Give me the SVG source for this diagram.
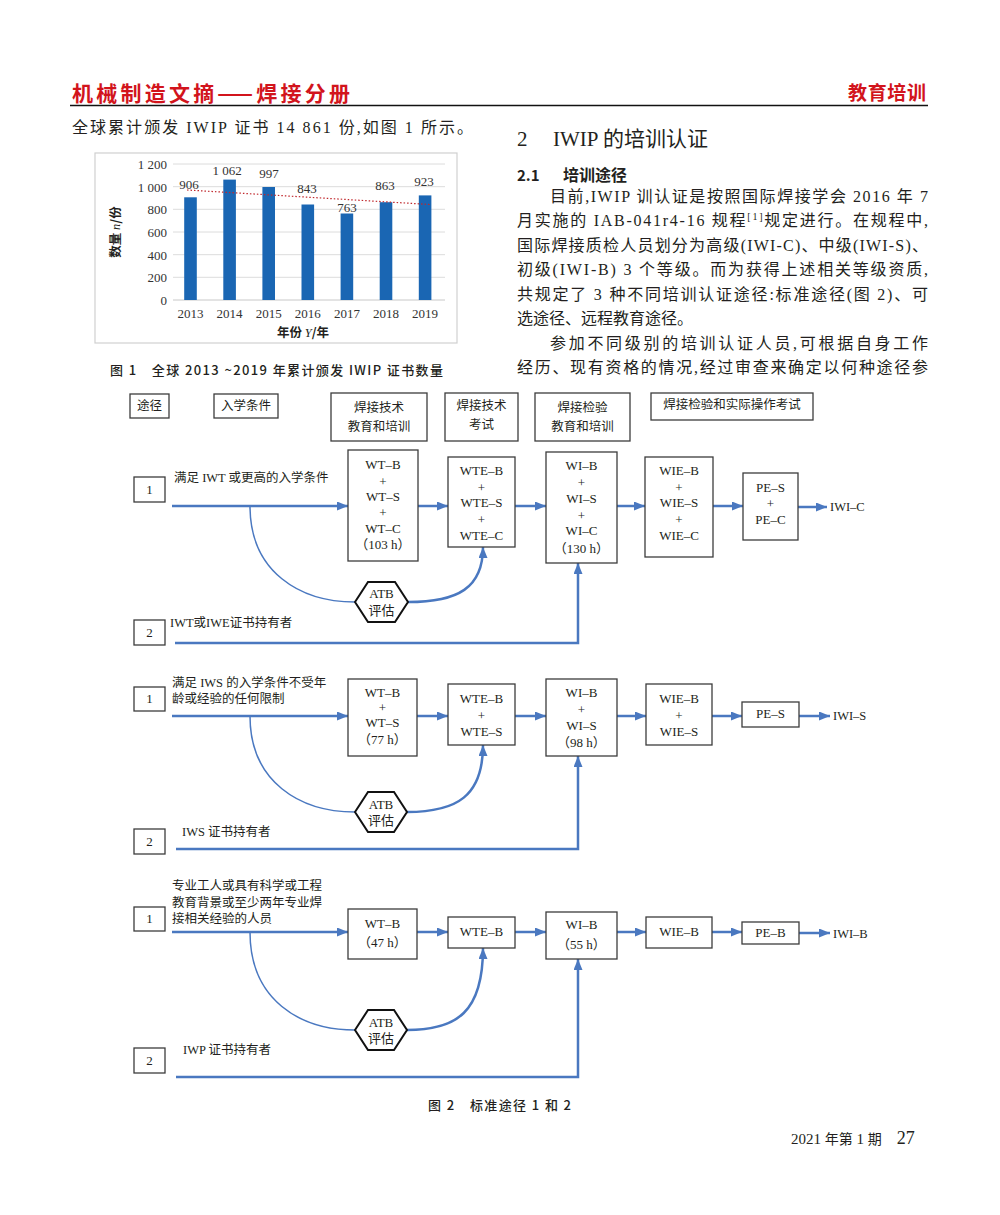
<svg xmlns="http://www.w3.org/2000/svg" width="1000" height="1215" viewBox="0 0 1000 1215">
<defs>
<marker id="ah" markerWidth="11" markerHeight="9" refX="11" refY="4.5" orient="auto" markerUnits="userSpaceOnUse"><path d="M0,0 L11,4.5 L0,9 Z" fill="#4a78c0"/></marker>
</defs>
<style>
.serif{font-family:"Liberation Serif","Noto Sans CJK SC",serif;fill:#231f20}
.sans{font-family:"Noto Sans CJK SC","Liberation Sans",sans-serif;fill:#231f20}
.red{font-family:"Noto Sans CJK SC",sans-serif;fill:#d2141c;font-weight:700}
.body{font-family:"Liberation Serif","Noto Sans CJK SC",serif;font-size:16px;fill:#231f20}
.box{fill:#fff;stroke:#3c3c3c;stroke-width:1.3}
.bt{font-family:"Liberation Serif","Noto Sans CJK SC",serif;font-size:13px;fill:#231f20;text-anchor:middle}
.ht{font-family:"Liberation Serif","Noto Sans CJK SC",serif;font-size:12.5px;fill:#231f20;text-anchor:middle}
.lbl{font-family:"Liberation Serif","Noto Sans CJK SC",serif;font-size:12.5px;fill:#231f20}
.flow{fill:none;stroke:#4a78c0;stroke-width:2.5}
.thin{fill:none;stroke:#4a78c0;stroke-width:1.5}
.hex{fill:#fff;stroke:#111;stroke-width:2}
.grid{stroke:#dcdcdc;stroke-width:1}
.bar{fill:#1a66b3}
.ct{font-family:"Liberation Serif",serif;font-size:13px;fill:#333}
</style>

<!-- page header -->
<g id="page-header">
<text class="red" x="72" y="101" font-size="21" textLength="278" lengthAdjust="spacing">机械制造文摘——焊接分册</text>
<text class="red" x="848" y="100" font-size="19" textLength="78" lengthAdjust="spacing">教育培训</text>
<line x1="70" y1="105.5" x2="928" y2="105.5" stroke="#111" stroke-width="1.6"/>
</g>

<!-- left text line -->
<text class="body" x="72" y="133" textLength="401" lengthAdjust="spacing">全球累计颁发 IWIP 证书 14 861 份,如图 1 所示。</text>

<!-- Figure 1 chart -->
<g id="chart1">
<rect x="95" y="153" width="362" height="190" fill="#fff" stroke="#d0d0d0" stroke-width="1.2"/>
<g class="grid">
<line x1="173" y1="164" x2="445" y2="164"/>
<line x1="173" y1="186.7" x2="445" y2="186.7"/>
<line x1="173" y1="209.3" x2="445" y2="209.3"/>
<line x1="173" y1="232" x2="445" y2="232"/>
<line x1="173" y1="254.7" x2="445" y2="254.7"/>
<line x1="173" y1="277.3" x2="445" y2="277.3"/>
<line x1="173" y1="300" x2="445" y2="300" stroke="#c8c8c8"/>
</g>
<g class="ct" text-anchor="end">
<text x="167" y="169">1 200</text>
<text x="167" y="191.7">1 000</text>
<text x="167" y="214.3">800</text>
<text x="167" y="237">600</text>
<text x="167" y="259.7">400</text>
<text x="167" y="282.3">200</text>
<text x="167" y="305">0</text>
</g>
<g>
<rect class="bar" x="184.2" y="197.3" width="12.6" height="102.7"/>
<rect class="bar" x="223.3" y="179.6" width="12.6" height="120.4"/>
<rect class="bar" x="262.4" y="187" width="12.6" height="113"/>
<rect class="bar" x="301.5" y="204.5" width="12.6" height="95.5"/>
<rect class="bar" x="340.6" y="213.5" width="12.6" height="86.5"/>
<rect class="bar" x="379.7" y="202.2" width="12.6" height="97.8"/>
<rect class="bar" x="418.8" y="195.4" width="12.6" height="104.6"/>
</g>
<line x1="187" y1="190" x2="430" y2="204.5" stroke="#c0282d" stroke-width="1.2" stroke-dasharray="1.5,2"/>
<g class="ct" text-anchor="middle" font-size="13.5">
<text x="189" y="189">906</text>
<text x="227" y="175">1 062</text>
<text x="269" y="178">997</text>
<text x="307" y="193">843</text>
<text x="347" y="212">763</text>
<text x="385" y="190">863</text>
<text x="424" y="186">923</text>
</g>
<g class="ct" text-anchor="middle">
<text x="190.5" y="318">2013</text>
<text x="229.6" y="318">2014</text>
<text x="268.7" y="318">2015</text>
<text x="307.8" y="318">2016</text>
<text x="346.9" y="318">2017</text>
<text x="386" y="318">2018</text>
<text x="425.1" y="318">2019</text>
</g>
<text class="sans" x="303" y="337" font-size="12.5" font-weight="700" text-anchor="middle">年份 <tspan font-family="Liberation Serif" font-style="italic" font-weight="400">Y</tspan>/年</text>
<text class="sans" transform="translate(120,232) rotate(-90)" font-size="12.5" font-weight="700" text-anchor="middle">数量 <tspan font-family="Liberation Serif" font-style="italic" font-weight="400">n</tspan>/份</text>
</g>
<text class="sans" x="110" y="375" font-size="13" font-weight="500" textLength="333" lengthAdjust="spacing">图 1　全球 2013 ~2019 年累计颁发 IWIP 证书数量</text>

<!-- right column text -->
<g id="right-text">
<text class="serif" x="517" y="146" font-size="21">2</text>
<text class="serif" x="553" y="146" font-size="21">IWIP 的培训认证</text>
<text class="sans" x="517" y="181" font-size="15" font-weight="700">2.1</text>
<text class="sans" x="563" y="181" font-size="16" font-weight="700">培训途径</text>
<text class="body" x="550" y="202" textLength="378" lengthAdjust="spacing">目前,IWIP 训认证是按照国际焊接学会 2016 年 7</text>
<text class="body" x="517" y="226" textLength="411" lengthAdjust="spacing">月实施的 IAB-041r4-16 规程<tspan font-size="10" dy="-6">[1]</tspan><tspan dy="6">规定进行。在规程中,</tspan></text>
<text class="body" x="517" y="251" textLength="411" lengthAdjust="spacing">国际焊接质检人员划分为高级(IWI-C)、中级(IWI-S)、</text>
<text class="body" x="517" y="275" textLength="411" lengthAdjust="spacing">初级(IWI-B) 3 个等级。而为获得上述相关等级资质,</text>
<text class="body" x="517" y="300" textLength="411" lengthAdjust="spacing">共规定了 3 种不同培训认证途径:标准途径(图 2)、可</text>
<text class="body" x="517" y="324">选途径、远程教育途径。</text>
<text class="body" x="550" y="349" textLength="378" lengthAdjust="spacing">参加不同级别的培训认证人员,可根据自身工作</text>
<text class="body" x="517" y="373" textLength="411" lengthAdjust="spacing">经历、现有资格的情况,经过审查来确定以何种途径参</text>
</g>

<!-- Figure 2 header row -->
<g id="h-route"><rect class="box" x="130" y="394" width="39" height="24"/><text class="ht" x="149.5" y="410">途径</text></g>
<g id="h-entry"><rect class="box" x="214" y="394" width="64" height="24"/><text class="ht" x="246" y="410">入学条件</text></g>
<g id="h-wt"><rect class="box" x="331" y="393" width="96" height="48"/><text class="ht" x="379" y="412">焊接技术</text><text class="ht" x="379" y="431">教育和培训</text></g>
<g id="h-wte"><rect class="box" x="445" y="393" width="73" height="48"/><text class="ht" x="481.5" y="410">焊接技术</text><text class="ht" x="481.5" y="429">考试</text></g>
<g id="h-wi"><rect class="box" x="535" y="393" width="95" height="48"/><text class="ht" x="582.5" y="412">焊接检验</text><text class="ht" x="582.5" y="431">教育和培训</text></g>
<g id="h-pe"><rect class="box" x="651" y="393" width="162" height="27"/><text class="ht" x="732" y="409">焊接检验和实际操作考试</text></g>

<!-- connectors -->
<g id="connectors">
<!-- row 1 -->
<path class="flow" d="M172,506 H348" marker-end="url(#ah)"/>
<path class="flow" d="M418,506 H448" marker-end="url(#ah)"/>
<path class="flow" d="M515,506 H546" marker-end="url(#ah)"/>
<path class="flow" d="M617,506 H645" marker-end="url(#ah)"/>
<path class="flow" d="M713,506 H743" marker-end="url(#ah)"/>
<path class="flow" d="M798,507 H827" marker-end="url(#ah)"/>
<path class="thin" d="M250,506 C250,572 300,602 355,602"/>
<path class="flow" d="M408,602 C458,602 483,588 483,547" marker-end="url(#ah)"/>
<path class="flow" stroke-width="2" d="M175,643 H578 V563" marker-end="url(#ah)"/>
<!-- row 2 -->
<path class="flow" d="M172,716 H348" marker-end="url(#ah)"/>
<path class="flow" d="M417,716 H448" marker-end="url(#ah)"/>
<path class="flow" d="M515,716 H546" marker-end="url(#ah)"/>
<path class="flow" d="M617,716 H646" marker-end="url(#ah)"/>
<path class="flow" d="M712,716 H742" marker-end="url(#ah)"/>
<path class="flow" d="M799,716 H830" marker-end="url(#ah)"/>
<path class="thin" d="M250,716 C250,782 300,812 355,812"/>
<path class="flow" d="M407,812 C457,812 483,796 483,745" marker-end="url(#ah)"/>
<path class="flow" stroke-width="2" d="M176,849 H578 V756" marker-end="url(#ah)"/>
<!-- row 3 -->
<path class="flow" d="M172,932 H348" marker-end="url(#ah)"/>
<path class="flow" d="M417,932 H448" marker-end="url(#ah)"/>
<path class="flow" d="M515,932 H546" marker-end="url(#ah)"/>
<path class="flow" d="M617,932 H646" marker-end="url(#ah)"/>
<path class="flow" d="M712,932 H742" marker-end="url(#ah)"/>
<path class="flow" d="M799,933 H830" marker-end="url(#ah)"/>
<path class="thin" d="M250,932 C250,1000 300,1030 355,1030"/>
<path class="flow" d="M407,1030 C457,1030 483,1012 483,948" marker-end="url(#ah)"/>
<path class="flow" stroke-width="2" d="M176,1077 H578 V959" marker-end="url(#ah)"/>
</g>

<!-- row 1 nodes -->
<g id="r1-p1"><rect class="box" x="134" y="477" width="31" height="25"/><text class="bt" x="149.5" y="494">1</text></g>
<text class="lbl" x="174" y="482">满足 IWT 或更高的入学条件</text>
<g id="r1-wt"><rect class="box" x="348" y="450" width="70" height="111"/>
<text class="bt" x="383" y="469">WT–B</text><text class="bt" x="383" y="486">+</text><text class="bt" x="383" y="501">WT–S</text><text class="bt" x="383" y="517">+</text><text class="bt" x="383" y="533">WT–C</text><text class="bt" x="383" y="549">（103 h）</text></g>
<g id="r1-wte"><rect class="box" x="448" y="457" width="67" height="90"/>
<text class="bt" x="481.5" y="475">WTE–B</text><text class="bt" x="481.5" y="492">+</text><text class="bt" x="481.5" y="507">WTE–S</text><text class="bt" x="481.5" y="524">+</text><text class="bt" x="481.5" y="540">WTE–C</text></g>
<g id="r1-wi"><rect class="box" x="546" y="452" width="71" height="111"/>
<text class="bt" x="581.5" y="470">WI–B</text><text class="bt" x="581.5" y="487">+</text><text class="bt" x="581.5" y="503">WI–S</text><text class="bt" x="581.5" y="520">+</text><text class="bt" x="581.5" y="535">WI–C</text><text class="bt" x="581.5" y="553">（130 h）</text></g>
<g id="r1-wie"><rect class="box" x="645" y="457" width="68" height="100"/>
<text class="bt" x="679" y="475">WIE–B</text><text class="bt" x="679" y="492">+</text><text class="bt" x="679" y="507">WIE–S</text><text class="bt" x="679" y="524">+</text><text class="bt" x="679" y="540">WIE–C</text></g>
<g id="r1-pe"><rect class="box" x="743" y="473" width="55" height="67"/>
<text class="bt" x="770.5" y="492">PE–S</text><text class="bt" x="770.5" y="508">+</text><text class="bt" x="770.5" y="524">PE–C</text></g>
<text id="r1-out" class="lbl" x="830" y="511">IWI–C</text>
<g id="r1-atb"><polygon class="hex" points="355,602 368,582 395,582 408,602 395,622 368,622"/>
<text class="bt" x="381.5" y="598">ATB</text><text class="bt" x="381.5" y="615">评估</text></g>
<g id="r1-p2"><rect class="box" x="134" y="620" width="31" height="25"/><text class="bt" x="149.5" y="637">2</text></g>
<text class="lbl" x="170" y="627">IWT或IWE证书持有者</text>

<!-- row 2 nodes -->
<g id="r2-p1"><rect class="box" x="134" y="687" width="31" height="24"/><text class="bt" x="149.5" y="703">1</text></g>
<text class="lbl" x="172" y="687">满足 IWS 的入学条件不受年</text>
<text class="lbl" x="172" y="703">龄或经验的任何限制</text>
<g id="r2-wt"><rect class="box" x="348" y="679" width="69" height="77"/>
<text class="bt" x="382.5" y="697">WT–B</text><text class="bt" x="382.5" y="712">+</text><text class="bt" x="382.5" y="727">WT–S</text><text class="bt" x="382.5" y="744">（77 h）</text></g>
<g id="r2-wte"><rect class="box" x="448" y="684" width="67" height="61"/>
<text class="bt" x="481.5" y="703">WTE–B</text><text class="bt" x="481.5" y="720">+</text><text class="bt" x="481.5" y="736">WTE–S</text></g>
<g id="r2-wi"><rect class="box" x="546" y="679" width="71" height="77"/>
<text class="bt" x="581.5" y="697">WI–B</text><text class="bt" x="581.5" y="714">+</text><text class="bt" x="581.5" y="730">WI–S</text><text class="bt" x="581.5" y="747">（98 h）</text></g>
<g id="r2-wie"><rect class="box" x="646" y="684" width="66" height="61"/>
<text class="bt" x="679" y="703">WIE–B</text><text class="bt" x="679" y="720">+</text><text class="bt" x="679" y="736">WIE–S</text></g>
<g id="r2-pe"><rect class="box" x="742" y="702" width="57" height="25"/><text class="bt" x="770.5" y="718">PE–S</text></g>
<text id="r2-out" class="lbl" x="833" y="720">IWI–S</text>
<g id="r2-atb"><polygon class="hex" points="355,812 368,792 394,792 407,812 394,832 368,832"/>
<text class="bt" x="381" y="809">ATB</text><text class="bt" x="381" y="825">评估</text></g>
<g id="r2-p2"><rect class="box" x="134" y="829" width="31" height="25"/><text class="bt" x="149.5" y="846">2</text></g>
<text class="lbl" x="182" y="836">IWS 证书持有者</text>

<!-- row 3 nodes -->
<g id="r3-p1"><rect class="box" x="134" y="907" width="31" height="24"/><text class="bt" x="149.5" y="923">1</text></g>
<text class="lbl" x="172" y="890">专业工人或具有科学或工程</text>
<text class="lbl" x="172" y="907">教育背景或至少两年专业焊</text>
<text class="lbl" x="172" y="923">接相关经验的人员</text>
<g id="r3-wt"><rect class="box" x="348" y="909" width="69" height="50"/>
<text class="bt" x="382.5" y="928">WT–B</text><text class="bt" x="382.5" y="947">（47 h）</text></g>
<g id="r3-wte"><rect class="box" x="448" y="917" width="67" height="31"/><text class="bt" x="481.5" y="936">WTE–B</text></g>
<g id="r3-wi"><rect class="box" x="546" y="912" width="71" height="47"/>
<text class="bt" x="581.5" y="929">WI–B</text><text class="bt" x="581.5" y="949">（55 h）</text></g>
<g id="r3-wie"><rect class="box" x="646" y="917" width="66" height="31"/><text class="bt" x="679" y="936">WIE–B</text></g>
<g id="r3-pe"><rect class="box" x="742" y="922" width="57" height="22"/><text class="bt" x="770.5" y="937">PE–B</text></g>
<text id="r3-out" class="lbl" x="833" y="938">IWI–B</text>
<g id="r3-atb"><polygon class="hex" points="355,1030 368,1010 394,1010 407,1030 394,1050 368,1050"/>
<text class="bt" x="381" y="1027">ATB</text><text class="bt" x="381" y="1043">评估</text></g>
<g id="r3-p2"><rect class="box" x="134" y="1048" width="31" height="25"/><text class="bt" x="149.5" y="1065">2</text></g>
<text class="lbl" x="183" y="1054">IWP 证书持有者</text>

<!-- captions / footer -->
<text class="sans" x="428" y="1110" font-size="13" font-weight="500" textLength="143" lengthAdjust="spacing">图 2　标准途径 1 和 2</text>
<text class="serif" x="791" y="1144" font-size="15">2021 <tspan class="sans" font-size="14">年第</tspan> 1 <tspan class="sans" font-size="14">期</tspan>　<tspan font-size="18">27</tspan></text>
</svg>
